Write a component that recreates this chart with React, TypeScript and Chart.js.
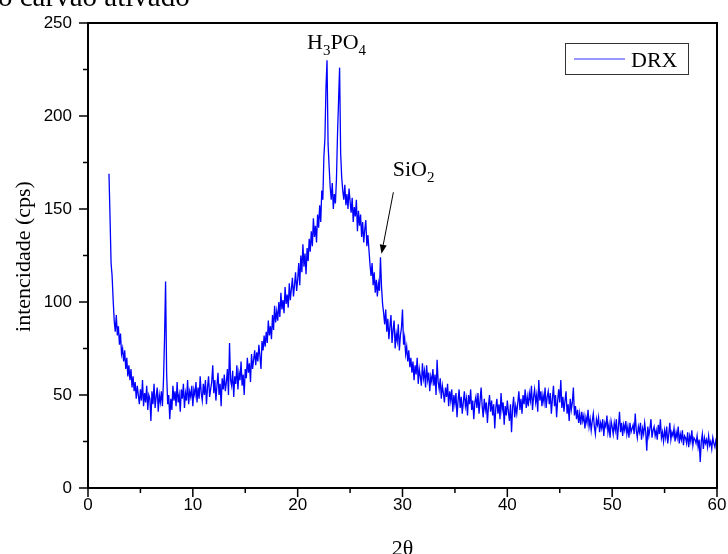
import React, { useEffect, useRef } from "react";
import { Chart, registerables } from "chart.js";

Chart.register(...registerables);

// Scan grid of the diffractogram (degrees 2θ)
const angleStart = 2.0;
const angleStep = 0.1;

// Intensity (cps), one value per 0.1° from 2.0° to 60.0°
const intensity: number[] = [
  169, 146, 121, 114, 101, 90, 84, 93, 82, 87,
  77, 83, 72, 75, 68, 74, 64, 70, 60, 66,
  58, 64, 54, 60, 52, 57, 48, 55, 50, 45,
  53, 47, 58, 44, 51, 46, 55, 42, 50, 48,
  36, 52, 45, 56, 43, 49, 54, 41, 50, 46,
  52, 44, 58, 80, 111, 62, 45, 50, 37, 48,
  42, 55, 47, 52, 44, 57, 46, 50, 41, 53,
  48, 56, 43, 51, 47, 58, 45, 52, 49, 55,
  44, 53, 50, 57, 46, 54, 48, 60, 51, 47,
  56, 50, 58, 45, 54, 60, 49, 53, 57, 66,
  51, 58, 47, 55, 62, 50, 56, 44, 59, 53,
  61, 52, 57, 64, 50, 78, 58, 55, 63, 49,
  60, 56, 66, 53, 62, 58, 68, 55, 61, 50,
  64, 59, 70, 62, 67, 57, 72, 64, 69, 74,
  66, 73, 68, 77, 71, 64, 79, 74, 82, 76,
  84, 78, 90, 82, 87, 80, 93, 85, 98, 89,
  95, 90, 100, 92, 105, 96, 101, 94, 108, 99,
  104, 97, 110, 101, 107, 113, 103, 109, 116, 106,
  112, 121, 109, 125, 116, 131, 119, 126, 115, 129,
  122, 134, 127, 138, 130, 145, 135, 141, 132, 147,
  140, 152, 143, 160, 155, 178, 188, 215, 230, 185,
  173, 162, 155, 164, 150, 158, 153, 166, 190, 208,
  226, 180, 167, 160, 155, 163, 152, 158, 150, 161,
  154, 148, 156, 143, 151, 146, 155, 138, 149, 141,
  147, 135, 143, 132, 139, 144, 130, 136, 128, 120,
  114, 121, 109, 116, 105, 112, 103, 110, 106, 124,
  108, 99, 94, 88, 96, 84, 91, 80, 87, 93,
  78, 85, 90, 75, 83, 79, 88, 74, 82, 86,
  96, 77, 81, 72, 76, 68, 74, 65, 70, 62,
  68, 58, 66, 61, 70, 56, 64, 60, 55, 67,
  59, 63, 54, 66, 58, 62, 52, 60, 57, 64,
  55, 61, 50, 69, 57, 53, 59, 48, 55, 51,
  46, 54, 49, 56, 44, 52, 47, 53, 41, 50,
  45, 51, 38, 47, 53, 43, 49, 40, 46, 52,
  44, 48, 39, 50, 45, 53, 42, 47, 37, 46,
  49, 43, 51, 40, 47, 54, 44, 38, 48, 42,
  46, 35, 44, 50, 41, 47, 39, 45, 32, 43,
  48, 40, 45, 37, 51, 42, 46, 34, 44, 39,
  47, 41, 36, 45, 30, 43, 49, 38, 44, 40,
  46, 52, 42, 48, 40, 50, 45, 53, 43, 49,
  44, 51, 47, 55, 42, 49, 53, 46, 50, 41,
  58, 47, 52, 44, 50, 46, 54, 43, 49, 52,
  45, 51, 40, 48, 55, 44, 50, 38, 47, 53,
  46, 58, 43, 49, 41, 47, 52, 40, 45, 36,
  48, 42, 46, 54, 39, 44, 37, 42, 35, 40,
  34, 41, 36, 39, 32, 38, 35, 42, 33, 37,
  31, 36, 40, 33, 29, 37, 34, 38, 30, 35,
  32, 37, 28, 35, 33, 39, 30, 34, 27, 36,
  33, 29, 35, 31, 37, 26, 33, 41, 30, 35,
  28, 34, 31, 36, 29, 33, 27, 35, 30, 32,
  34, 29, 40, 31, 27, 33, 30, 35, 26, 32,
  29, 35, 30, 20, 33, 28, 32, 37, 27, 31,
  33, 28, 31, 26, 34, 29, 37, 27, 30, 25,
  31, 27, 33, 24, 29, 35, 26, 30, 28, 32,
  25, 30, 27, 33, 24, 29, 26, 31, 23, 28,
  27, 24, 30, 22, 28, 25, 31, 23, 27, 26,
  24, 28, 22, 26, 14, 25, 29, 21, 27, 24,
  26, 22, 28, 23, 25, 21, 27, 24, 22, 26,
  25,
];

const xMajorTicks = [0, 10, 20, 30, 40, 50, 60];
const xMinorTicks = [5, 15, 25, 35, 45, 55];
const yMajorTicks = [0, 50, 100, 150, 200, 250];
const yMinorTicks = [25, 75, 125, 175, 225];

const seriesLabel = "DRX";
const xTitle = "2θ";
const yTitle = "intencidade (cps)";
const caption = "o carvão ativado";

// annotation anchors in data units
const h3po4Anchor = { x: 20.9, y: 236 };
const sio2Anchor = { x: 29.07, y: 168 };
const arrowFrom = { x: 29.13, y: 159 };
const arrowTo = { x: 28.0, y: 126 };

const SERIF = "'Liberation Serif', 'Times New Roman', serif";
const SANS = "'Liberation Sans', Arial, sans-serif";

function drawSubText(
  ctx: CanvasRenderingContext2D,
  parts: { t: string; sub?: boolean }[],
  x: number,
  y: number
) {
  let cx = x;
  for (const p of parts) {
    ctx.font = p.sub ? `15px ${SERIF}` : `22px ${SERIF}`;
    ctx.fillText(p.t, cx, p.sub ? y + 6 : y);
    cx += ctx.measureText(p.t).width;
  }
}

const overlay = {
  id: "overlay",
  afterDraw(chart: any) {
    const { ctx, chartArea: a, scales } = chart;
    const xs = scales.x;
    const ys = scales.y;
    ctx.save();
    ctx.strokeStyle = "#000";
    ctx.fillStyle = "#000";

    // frame
    ctx.lineWidth = 2;
    ctx.strokeRect(a.left, a.top, a.right - a.left, a.bottom - a.top);

    // ticks
    ctx.lineWidth = 1.5;
    ctx.beginPath();
    for (const v of xMajorTicks) {
      const px = xs.getPixelForValue(v);
      ctx.moveTo(px, a.bottom);
      ctx.lineTo(px, a.bottom + 9);
    }
    for (const v of xMinorTicks) {
      const px = xs.getPixelForValue(v);
      ctx.moveTo(px, a.bottom);
      ctx.lineTo(px, a.bottom + 5);
    }
    for (const v of yMajorTicks) {
      const py = ys.getPixelForValue(v);
      ctx.moveTo(a.left, py);
      ctx.lineTo(a.left - 9, py);
    }
    for (const v of yMinorTicks) {
      const py = ys.getPixelForValue(v);
      ctx.moveTo(a.left, py);
      ctx.lineTo(a.left - 5, py);
    }
    ctx.stroke();

    // annotations
    ctx.textAlign = "left";
    ctx.textBaseline = "alphabetic";
    drawSubText(
      ctx,
      [{ t: "H" }, { t: "3", sub: true }, { t: "PO" }, { t: "4", sub: true }],
      xs.getPixelForValue(h3po4Anchor.x),
      ys.getPixelForValue(h3po4Anchor.y)
    );
    drawSubText(
      ctx,
      [{ t: "SiO" }, { t: "2", sub: true }],
      xs.getPixelForValue(sio2Anchor.x),
      ys.getPixelForValue(sio2Anchor.y)
    );

    // arrow
    const x1 = xs.getPixelForValue(arrowFrom.x);
    const y1 = ys.getPixelForValue(arrowFrom.y);
    const x2 = xs.getPixelForValue(arrowTo.x);
    const y2 = ys.getPixelForValue(arrowTo.y);
    const ang = Math.atan2(y2 - y1, x2 - x1);
    const hl = 9;
    const hw = 3.5;
    const bx = x2 - hl * Math.cos(ang);
    const by = y2 - hl * Math.sin(ang);
    ctx.lineWidth = 1;
    ctx.beginPath();
    ctx.moveTo(x1, y1);
    ctx.lineTo(bx, by);
    ctx.stroke();
    ctx.beginPath();
    ctx.moveTo(x2, y2);
    ctx.lineTo(bx + hw * Math.sin(ang), by - hw * Math.cos(ang));
    ctx.lineTo(bx - hw * Math.sin(ang), by + hw * Math.cos(ang));
    ctx.closePath();
    ctx.fill();

    // legend
    const lx = a.right - 152;
    const ly = a.top + 20;
    ctx.lineWidth = 1;
    ctx.strokeStyle = "#333";
    ctx.strokeRect(lx + 0.5, ly + 0.5, 123, 31);
    ctx.strokeStyle = "#3030ff";
    ctx.beginPath();
    ctx.moveTo(lx + 9, ly + 16);
    ctx.lineTo(lx + 60, ly + 16);
    ctx.stroke();
    ctx.font = `22px ${SERIF}`;
    ctx.fillText(seriesLabel, lx + 66, ly + 24);

    // axis titles
    ctx.textAlign = "center";
    ctx.font = `22px ${SERIF}`;
    ctx.fillText(xTitle, (a.left + a.right) / 2, 555);
    ctx.save();
    ctx.translate(24, (a.top + a.bottom) / 2 + 1);
    ctx.rotate(-Math.PI / 2);
    ctx.textBaseline = "middle";
    ctx.fillText(yTitle, 0, 0);
    ctx.restore();

    // cut caption at the top
    ctx.textAlign = "left";
    ctx.textBaseline = "alphabetic";
    ctx.font = `29px ${SERIF}`;
    ctx.fillText(caption, -2, 6);

    ctx.restore();
  },
};

export default function App() {
  const ref = useRef<HTMLCanvasElement>(null);

  useEffect(() => {
    if (!ref.current) return;
    const points = intensity.map((v, i) => ({
      x: angleStart + i * angleStep,
      y: v,
    }));
    const chart = new Chart(ref.current, {
      type: "line",
      data: {
        datasets: [
          {
            label: seriesLabel,
            data: points,
            borderColor: "#0000ff",
            borderWidth: 1.3,
            pointRadius: 0,
            tension: 0,
            fill: false,
          },
        ],
      },
      options: {
        animation: false,
        responsive: false,
        maintainAspectRatio: false,
        devicePixelRatio: 1,
        layout: { padding: { left: 0, top: 23, right: 11, bottom: 0 } },
        plugins: {
          legend: { display: false },
          tooltip: { enabled: false },
        },
        scales: {
          x: {
            type: "linear",
            min: 0,
            max: 60,
            border: { display: false },
            grid: { display: false, drawTicks: false },
            ticks: {
              stepSize: 10,
              padding: 7,
              color: "#000",
              font: { family: SANS, size: 17 },
              maxRotation: 0,
            },
            afterFit: (s: any) => {
              s.height = 66;
              s.paddingLeft = 0;
              s.paddingRight = 0;
            },
          },
          y: {
            type: "linear",
            min: 0,
            max: 250,
            border: { display: false },
            grid: { display: false, drawTicks: false },
            ticks: {
              stepSize: 50,
              padding: 16,
              color: "#000",
              font: { family: SANS, size: 17 },
            },
            afterFit: (s: any) => {
              s.width = 88;
              s.paddingTop = 0;
              s.paddingBottom = 0;
            },
          },
        },
      },
      plugins: [overlay],
    });
    return () => chart.destroy();
  }, []);

  return (
    <div style={{ position: "absolute", left: 0, top: 0, width: 728, height: 554, background: "#fff" }}>
      <canvas ref={ref} width={728} height={554} style={{ width: 728, height: 554, display: "block" }} />
    </div>
  );
}
